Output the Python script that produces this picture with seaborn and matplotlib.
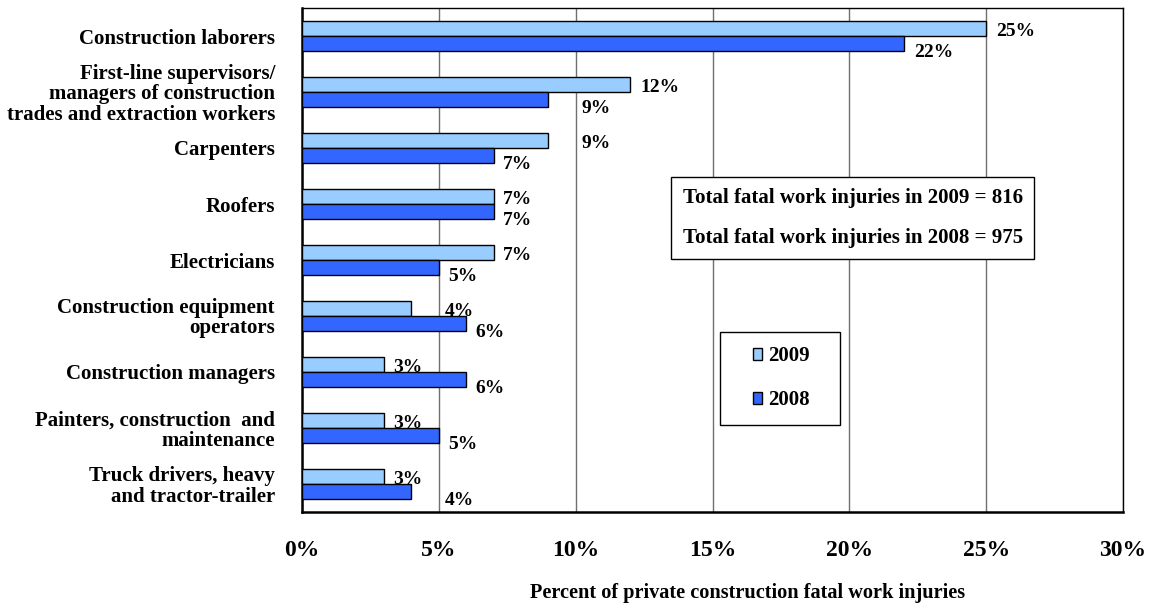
import numpy as np
import pandas as pd
import matplotlib
matplotlib.use("Agg")
import matplotlib.pyplot as plt
from matplotlib.ticker import FixedLocator, FuncFormatter
from matplotlib.patches import Patch, Rectangle
import seaborn as sns

categories = [
    "Construction laborers",
    "First-line supervisors/\nmanagers of construction\ntrades and extraction workers",
    "Carpenters",
    "Roofers",
    "Electricians",
    "Construction equipment\noperators",
    "Construction managers",
    "Painters, construction  and\nmaintenance",
    "Truck drivers, heavy\nand tractor-trailer",
]
values_2009 = [25, 12, 9, 7, 7, 4, 3, 3, 3]
values_2008 = [22, 9, 7, 7, 5, 6, 6, 5, 4]
years = ["2009", "2008"]
xticks = [0, 5, 10, 15, 20, 25, 30]
xlabel = "Percent of private construction fatal work injuries"
box_lines = ["Total fatal work injuries in 2009 = 816",
             "Total fatal work injuries in 2008 = 975"]

colors = {"2009": "#99CCFF", "2008": "#3366FF"}

df = pd.DataFrame({
    "category": categories * 2,
    "year": ["2009"] * len(categories) + ["2008"] * len(categories),
    "value": values_2009 + values_2008,
})

sns.set_style("white")
plt.rcParams["font.family"] = ["Liberation Serif", "DejaVu Serif"]
plt.rcParams["font.weight"] = "bold"
plt.rcParams["text.color"] = "black"
plt.rcParams["axes.labelcolor"] = "black"
plt.rcParams["xtick.labelcolor"] = "black"
plt.rcParams["ytick.labelcolor"] = "black"

fig = plt.figure(figsize=(11.51, 6.04), dpi=100)
ax = fig.add_axes([302 / 1151, 1 - 512 / 604, (1123 - 302) / 1151, (512 - 8) / 604])

sns.barplot(data=df, x="value", y="category", hue="year", hue_order=years,
            order=categories, orient="h", palette=colors, saturation=1, width=0.55,
            edgecolor="black", linewidth=1, ax=ax, legend=False, zorder=3)

ax.set_xlim(0, 30)
ax.set_ylim(len(categories) - 0.5, -0.5)
ax.set_xticks(xticks)
ax.xaxis.set_major_formatter(FuncFormatter(lambda v, p: f"{int(v)}%"))
ax.grid(axis="x", color="#707070", linewidth=1, zorder=0)
ax.grid(axis="y", visible=False)
ax.set_axisbelow(True)

for lab in ax.get_xticklabels():
    lab.set_fontsize(17)
    lab.set_fontweight("bold")
    lab.set_color("black")
ax.tick_params(axis="x", direction="out", length=6, width=1, color="#707070", pad=14)

ax.tick_params(axis="y", which="major", length=0, pad=19.5, labelsize=15)
for lab in ax.get_yticklabels():
    lab.set_fontweight("bold")
    lab.set_horizontalalignment("right")
    lab.set_linespacing(1.0)
    lab.set_color("black")
ax.yaxis.set_minor_locator(FixedLocator(np.arange(-0.5, len(categories), 1.0)))
ax.tick_params(axis="y", which="minor", direction="out", length=7, width=1.2, color="black")

ax.set_xlabel(xlabel, fontsize=14.6, fontweight="bold", labelpad=16, color="black")
ax.xaxis.label.set_x(0.5426)
ax.set_ylabel("")

for side in ["left", "bottom"]:
    ax.spines[side].set_color("black")
    ax.spines[side].set_linewidth(1.8)
for side in ["top", "right"]:
    ax.spines[side].set_color("black")
    ax.spines[side].set_linewidth(1.0)
    ax.spines[side].set_visible(True)

# value labels: right of bar end, pushed past a gridline if they'd overlap it
label_w = 1.0
for j, (yr, vals) in enumerate(zip(years, [values_2009, values_2008])):
    for i, v in enumerate(vals):
        x = v + 0.35
        if np.floor((x + label_w) / 5) > np.floor(x / 5) and (x + label_w) % 5 != 0:
            x = np.floor((x + label_w) / 5) * 5 + 0.2
        yc = i + (-0.1375 if j == 0 else 0.1375)
        dy = -2 if j == 0 else -6
        ax.annotate(f"{v}%", xy=(x, yc), xytext=(0, dy), textcoords="offset points",
                    ha="left", va="center", fontsize=14, fontweight="bold",
                    color="black", zorder=5)

# totals text box
ax.text(0.671, 0.583, box_lines[0] + "\n\n" + box_lines[1], transform=ax.transAxes,
        ha="center", va="center", fontsize=15, fontweight="bold", linespacing=0.98,
        color="black",
        bbox=dict(boxstyle="square,pad=0.55", facecolor="white", edgecolor="black", linewidth=1),
        zorder=6)

# legend with its frame
ax.add_patch(Rectangle((0.509, 0.173), 0.146, 0.184, transform=ax.transAxes,
                       facecolor="white", edgecolor="black", linewidth=1, zorder=6))
handles = [Patch(facecolor=colors[y], edgecolor="black", linewidth=1, label=y) for y in years]
leg = ax.legend(handles=handles, loc="center", bbox_to_anchor=(0.584, 0.265),
                frameon=False, prop={"size": 15, "weight": "bold"},
                handlelength=0.45, handleheight=0.45, handletextpad=0.3,
                labelspacing=1.15, borderpad=0, borderaxespad=0)
for t in leg.get_texts():
    t.set_color("black")
leg.set_zorder(7)

fig.savefig("out.png", dpi=100)
